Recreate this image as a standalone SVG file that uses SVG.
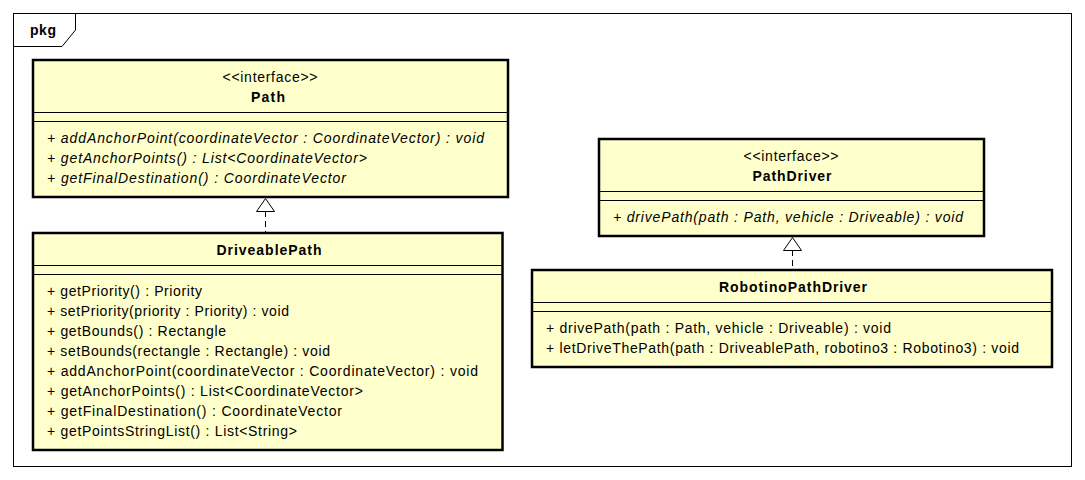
<svg xmlns="http://www.w3.org/2000/svg" width="1085" height="480" viewBox="0 0 1085 480">
<style>
text{font-family:"Liberation Sans",Arial,sans-serif;font-size:14px;fill:#000}
.box{fill:#FFFFCC;stroke:#000;stroke-width:2.5}
.sep{stroke:#000;stroke-width:1}
.nm{font-weight:bold;text-anchor:middle}
.st{text-anchor:middle}
.it{font-style:italic}
.dash{stroke:#000;stroke-width:1;stroke-dasharray:6,4;fill:none}
.tri{fill:#fff;stroke:#000;stroke-width:1}
</style>
<rect width="1085" height="480" fill="#fff"/>
<g id="pkg">
<rect x="13.5" y="13.5" width="1058" height="453" fill="#fff" stroke="#000" stroke-width="1"/>
<path d="M13.5 46.5 H62 L75.5 30 V13.5" fill="none" stroke="#000" stroke-width="1"/>
<text x="30" y="35" font-weight="bold" textLength="26" lengthAdjust="spacing">pkg</text>
</g>
<g id="Path">
<rect class="box" x="33" y="60" width="475" height="137"/>
<line class="sep" x1="33" y1="112.5" x2="508" y2="112.5"/>
<line class="sep" x1="33" y1="121.5" x2="508" y2="121.5"/>
<text class="st" x="270" y="82" textLength="95" lengthAdjust="spacing">&lt;&lt;interface&gt;&gt;</text>
<text class="nm" x="268" y="102" textLength="34" lengthAdjust="spacing">Path</text>
<text class="it" x="47" y="143" textLength="437" lengthAdjust="spacing">+ addAnchorPoint(coordinateVector : CoordinateVector) : void</text>
<text class="it" x="47" y="163" textLength="320" lengthAdjust="spacing">+ getAnchorPoints() : List&lt;CoordinateVector&gt;</text>
<text class="it" x="47" y="183" textLength="299" lengthAdjust="spacing">+ getFinalDestination() : CoordinateVector</text>
</g>
<g id="DriveablePath">
<rect class="box" x="33" y="233" width="469.5" height="217"/>
<line class="sep" x1="33" y1="265.5" x2="502.5" y2="265.5"/>
<line class="sep" x1="33" y1="274.5" x2="502.5" y2="274.5"/>
<text class="nm" x="269" y="255" textLength="105" lengthAdjust="spacing">DriveablePath</text>
<text x="47" y="296" textLength="155" lengthAdjust="spacing">+ getPriority() : Priority</text>
<text x="47" y="316" textLength="242" lengthAdjust="spacing">+ setPriority(priority : Priority) : void</text>
<text x="47" y="336" textLength="179" lengthAdjust="spacing">+ getBounds() : Rectangle</text>
<text x="47" y="356" textLength="283" lengthAdjust="spacing">+ setBounds(rectangle : Rectangle) : void</text>
<text x="47" y="376" textLength="431" lengthAdjust="spacing">+ addAnchorPoint(coordinateVector : CoordinateVector) : void</text>
<text x="47" y="396" textLength="316" lengthAdjust="spacing">+ getAnchorPoints() : List&lt;CoordinateVector&gt;</text>
<text x="47" y="416" textLength="295" lengthAdjust="spacing">+ getFinalDestination() : CoordinateVector</text>
<text x="47" y="436" textLength="250" lengthAdjust="spacing">+ getPointsStringList() : List&lt;String&gt;</text>
</g>
<g id="PathDriver">
<rect class="box" x="599" y="139" width="385" height="97"/>
<line class="sep" x1="599" y1="191.5" x2="984" y2="191.5"/>
<line class="sep" x1="599" y1="200.5" x2="984" y2="200.5"/>
<text class="st" x="791" y="161" textLength="95" lengthAdjust="spacing">&lt;&lt;interface&gt;&gt;</text>
<text class="nm" x="792" y="181" textLength="79" lengthAdjust="spacing">PathDriver</text>
<text class="it" x="613" y="222" textLength="350" lengthAdjust="spacing">+ drivePath(path : Path, vehicle : Driveable) : void</text>
</g>
<g id="RobotinoPathDriver">
<rect class="box" x="532" y="270" width="520" height="97"/>
<line class="sep" x1="532" y1="302.5" x2="1052" y2="302.5"/>
<line class="sep" x1="532" y1="311.5" x2="1052" y2="311.5"/>
<text class="nm" x="793" y="292" textLength="148" lengthAdjust="spacing">RobotinoPathDriver</text>
<text x="546" y="333" textLength="345" lengthAdjust="spacing">+ drivePath(path : Path, vehicle : Driveable) : void</text>
<text x="546" y="353" textLength="473" lengthAdjust="spacing">+ letDriveThePath(path : DriveablePath, robotino3 : Robotino3) : void</text>
</g>
<g id="connectors">
<line class="dash" x1="265.5" y1="211" x2="265.5" y2="232"/>
<polygon class="tri" points="265.5,198.5 256.5,211.5 274.5,211.5"/>
<line class="dash" x1="792.5" y1="250" x2="792.5" y2="269"/>
<polygon class="tri" points="792.5,237.5 783.5,250.5 801.5,250.5"/>
</g>
</svg>
